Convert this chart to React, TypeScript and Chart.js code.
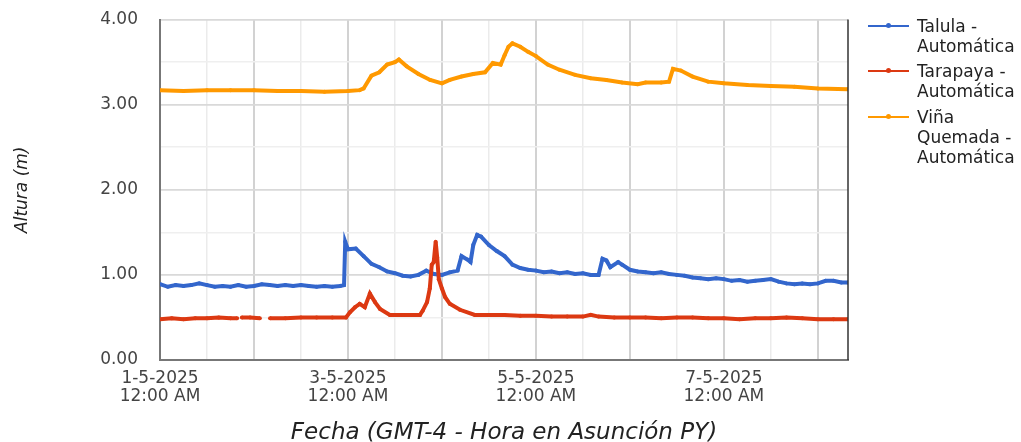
import React, { useEffect, useRef } from "react";
import { Chart, registerables } from "chart.js";

Chart.register(...registerables);

// Hours since 1-5-2025 12:00 AM, value in metres
const talula: [number, number][] = [
  [0, 0.89], [2, 0.86], [4, 0.88], [6, 0.87], [8, 0.88], [10, 0.9], [12, 0.88], [14, 0.86],
  [16, 0.87], [18, 0.86], [20, 0.88], [22, 0.86], [24, 0.87], [26, 0.89], [28, 0.88], [30, 0.87],
  [32, 0.88], [34, 0.87], [36, 0.88], [38, 0.87], [40, 0.86], [42, 0.87], [44, 0.86], [46, 0.87],
  [47, 0.88], [47.3, 1.39], [48, 1.3], [50, 1.31], [52, 1.22], [54, 1.13], [56, 1.09], [58, 1.04],
  [60, 1.02], [62, 0.99], [64, 0.98], [66, 1.0], [68, 1.05], [70, 1.01], [72, 1.0], [74, 1.03],
  [76, 1.05], [77, 1.22], [78.5, 1.18], [79.3, 1.15], [80, 1.35], [81, 1.47], [82, 1.45], [84, 1.35],
  [86, 1.28], [88, 1.22], [90, 1.12], [92, 1.08], [94, 1.06], [96, 1.05], [98, 1.03], [100, 1.04],
  [102, 1.02], [104, 1.03], [106, 1.01], [108, 1.02], [110, 1.0], [112, 1.0], [113, 1.19], [114, 1.17],
  [115, 1.09], [117, 1.15], [118, 1.12], [120, 1.06], [122, 1.04], [124, 1.03], [126, 1.02], [128, 1.03],
  [130, 1.01], [132, 1.0], [134, 0.99], [136, 0.97], [138, 0.96], [140, 0.95], [142, 0.96], [144, 0.95],
  [146, 0.93], [148, 0.94], [150, 0.92], [152, 0.93], [154, 0.94], [156, 0.95], [158, 0.92], [160, 0.9],
  [162, 0.89], [164, 0.9], [166, 0.89], [168, 0.9], [170, 0.93], [172, 0.93], [174, 0.91], [175.7, 0.91],
];

const tarapaya: [number, number | null][] = [
  [0, 0.48], [3, 0.49], [6, 0.48], [9, 0.49], [12, 0.49], [15, 0.5], [18, 0.49], [19.7, 0.49],
  [20.3, null], [20.9, 0.5], [23, 0.5], [25.5, 0.49], [26.5, null], [28.1, 0.49], [32, 0.49], [36, 0.5],
  [40, 0.5], [44, 0.5], [47.5, 0.5], [48.5, 0.56], [49.8, 0.62], [51, 0.66], [52.3, 0.62], [53.6, 0.78],
  [54.9, 0.68], [56.2, 0.6], [58.7, 0.53], [62, 0.53], [66.4, 0.53], [67.1, 0.58], [68.2, 0.68], [68.9, 0.84],
  [69.4, 1.12], [69.9, 1.15], [70.4, 1.39], [70.8, 1.2], [71.2, 0.95], [72, 0.84], [72.8, 0.74], [74, 0.66],
  [76.6, 0.59], [80.4, 0.53], [84, 0.53], [88, 0.53], [92, 0.52], [96, 0.52], [100, 0.51], [104, 0.51],
  [108, 0.51], [110, 0.53], [112, 0.51], [116, 0.5], [120, 0.5], [124, 0.5], [128, 0.49], [132, 0.5],
  [136, 0.5], [140, 0.49], [144, 0.49], [148, 0.48], [152, 0.49], [156, 0.49], [160, 0.5], [164, 0.49],
  [168, 0.48], [172, 0.48], [175.7, 0.48],
];

const vinaQuemada: [number, number][] = [
  [0, 3.17], [6, 3.16], [12, 3.17], [18, 3.17], [24, 3.17], [30, 3.16], [36, 3.16], [42, 3.15],
  [48, 3.16], [51, 3.17], [52, 3.19], [54, 3.34], [56, 3.38], [58, 3.47], [60, 3.5], [61, 3.53],
  [63, 3.45], [66, 3.36], [69, 3.29], [72, 3.25], [74, 3.29], [77, 3.33], [80, 3.36], [83, 3.38],
  [85, 3.49], [87, 3.47], [88, 3.58], [89, 3.68], [90, 3.72], [92, 3.68], [94, 3.62], [96, 3.57],
  [99, 3.47], [102, 3.41], [106, 3.35], [110, 3.31], [114, 3.29], [118, 3.26], [122, 3.24], [124, 3.26],
  [128, 3.26], [130, 3.27], [131, 3.42], [133, 3.4], [136, 3.33], [140, 3.27], [144, 3.25], [150, 3.23],
  [156, 3.22], [162, 3.21], [168, 3.19], [175.7, 3.18],
];

const seriesNames = ["Talula - Automática", "Tarapaya - Automática", "Viña Quemada - Automática"];
const legendLines = [["Talula -", "Automática"], ["Tarapaya -", "Automática"], ["Viña", "Quemada -", "Automática"]];
const seriesColors = ["#3366cc", "#dc3912", "#ff9900"];
const yTickValues = [0, 1, 2, 3, 4];
const xTickLabels: Record<number, string[]> = {
  0: ["1-5-2025", "12:00 AM"],
  48: ["3-5-2025", "12:00 AM"],
  96: ["5-5-2025", "12:00 AM"],
  144: ["7-5-2025", "12:00 AM"],
};
const xTitle = "Fecha (GMT-4 - Hora en Asunción PY)";
const yTitle = "Altura (m)";

const FONT = "'DejaVu Sans', sans-serif";

export default function App() {
  const ref = useRef<HTMLCanvasElement | null>(null);

  useEffect(() => {
    if (!ref.current) return;
    const toPts = (arr: [number, number | null][]) => arr.map(([x, y]) => ({ x, y }));
    const frame = {
      id: "frame",
      afterDatasetsDraw(chart: any) {
        const { ctx, chartArea: a } = chart;
        ctx.save();
        ctx.strokeStyle = "#333";
        ctx.lineWidth = 1.5;
        ctx.beginPath();
        ctx.moveTo(a.right, a.top);
        ctx.lineTo(a.right, a.bottom);
        ctx.stroke();
        ctx.restore();
      },
    };
    const chart = new Chart(ref.current, {
      type: "line",
      data: {
        datasets: [talula, tarapaya, vinaQuemada].map((s, i) => ({
          label: seriesNames[i],
          data: toPts(s as any),
          borderColor: seriesColors[i],
          backgroundColor: seriesColors[i],
          borderWidth: 4,
          pointRadius: 2,
          pointBorderWidth: 0,
          tension: 0,
          spanGaps: false,
          order: 3 - i,
        })),
      },
      options: {
        animation: false,
        responsive: false,
        layout: { padding: { top: 19.5, right: 173, left: 0, bottom: 0 } },
        plugins: { legend: { display: false }, tooltip: { enabled: false } },
        scales: {
          x: {
            type: "linear",
            min: 0,
            max: 175.7,
            afterFit: (s: any) => { s.height = 82; },
            ticks: {
              stepSize: 12,
              includeBounds: false,
              autoSkip: false,
              maxRotation: 0,
              padding: 10,
              color: "#444",
              font: { family: FONT, size: 17, lineHeight: 18 / 17 },
              callback: (v: any) => xTickLabels[Number(v)] ?? "",
            },
            grid: {
              drawTicks: false,
              color: (c: any) => (c.tick && c.tick.value % 24 === 0 ? "#d2d2d2" : "#ebebeb"),
              lineWidth: (c: any) => (c.tick && c.tick.value % 24 === 0 ? 2 : 1.5),
            },
            border: { display: true, color: "#777", width: 2 },
            title: {
              display: true,
              text: xTitle,
              color: "#222",
              font: { family: FONT, size: 23, style: "italic", lineHeight: 0.8 },
              padding: { top: 0, bottom: 0 },
            },
          },
          y: {
            min: 0,
            max: 4,
            afterFit: (s: any) => { s.width = 160; },
            ticks: {
              stepSize: 0.5,
              padding: 0,
              color: "#444",
              font: { family: FONT, size: 17 },
              callback: (v: any) => (yTickValues.includes(Number(v)) ? Number(v).toFixed(2) : ""),
            },
            grid: {
              drawTicks: true,
              tickLength: 22,
              tickColor: "rgba(0,0,0,0)",
              color: (c: any) => (c.tick && Number.isInteger(c.tick.value) ? "#d9d9d9" : "#efefef"),
              lineWidth: (c: any) => (c.tick && Number.isInteger(c.tick.value) ? 1.8 : 1.5),
            },
            border: { display: true, color: "#777", width: 2 },
            title: {
              display: true,
              text: yTitle,
              color: "#222",
              font: { family: FONT, size: 17, style: "italic", lineHeight: 1.2 },
              padding: { top: 12, bottom: 0 },
            },
          },
        },
      },
      plugins: [frame],
    } as any);
    return () => chart.destroy();
  }, []);

  const legendTops = [16, 61, 107];

  return (
    <div style={{ position: "fixed", left: 0, top: 0, width: 1021, height: 442, background: "#fff" }}>
      <canvas ref={ref} width={1021} height={442} style={{ width: 1021, height: 442, display: "block" }} />
      {legendLines.map((lines, i) => (
        <div key={i} style={{ position: "absolute", left: 868, top: legendTops[i] }}>
          <div style={{ position: "absolute", left: 0, top: 9, width: 41, height: 2, background: seriesColors[i] }} />
          <div style={{ position: "absolute", left: 18, top: 7, width: 5, height: 5, borderRadius: 3, background: seriesColors[i] }} />
          <div style={{ position: "absolute", left: 49, top: 0, whiteSpace: "nowrap", fontFamily: FONT, fontSize: 17, lineHeight: "20px", color: "#222" }}>
            {lines.map((l, j) => (
              <div key={j}>{l}</div>
            ))}
          </div>
        </div>
      ))}
    </div>
  );
}
